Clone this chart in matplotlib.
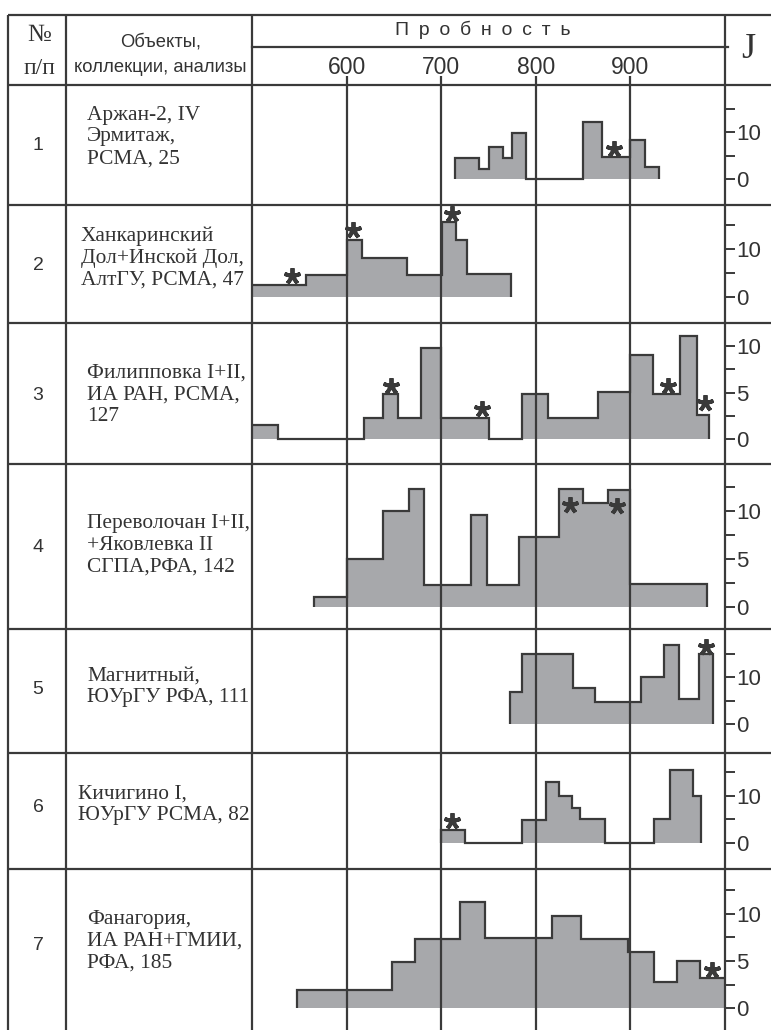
import numpy as np
import matplotlib
matplotlib.use('Agg')
import matplotlib.pyplot as plt

#==============================================================================
#DATA
#==============================================================================

fineness_ticks = [600, 700, 800, 900]

row_numbers = ['1', '2', '3', '4', '5', '6', '7']
row_labels = ['Аржан-2, IV\nЭрмитаж,\nРСМА, 25',
              'Ханкаринский\nДол+Инской Дол,\nАлтГУ, РСМА, 47',
              'Филипповка I+II,\nИА РАН, РСМА,\n127',
              'Переволочан I+II,\n+Яковлевка II\nСГПА,РФА, 142',
              'Магнитный,\nЮУрГУ РФА, 111',
              'Кичигино I,\nЮУрГУ РСМА, 82',
              'Фанагория,\nИА РАН+ГМИИ,\nРФА, 185']

#bin edges (fineness) and frequencies J per row
edges1 = [715, 740, 750, 765, 775, 790, 850, 870, 900, 915, 930]
freq1 = [4.6, 2.1, 6.8, 4.6, 9.8, 0, 12.3, 4.7, 8.3, 2.6]
edges2 = [500, 557, 600, 616, 664, 701, 716, 727, 774]
freq2 = [2.4, 4.5, 11.8, 8.1, 4.6, 15.6, 11.8, 4.8]
edges3 = [500, 527, 618, 638, 654, 679, 700, 751, 785, 813, 866, 900, 924, 952, 970, 983]
freq3 = [1.5, 0, 2.3, 4.8, 2.3, 9.8, 2.3, 0, 4.9, 2.3, 5.1, 9.0, 4.9, 11.1, 2.6]
edges4 = [566, 600, 638, 666, 682, 731, 748, 782, 824, 850, 876, 900, 981]
freq4 = [1.0, 5.0, 10.0, 12.3, 2.3, 9.5, 2.3, 7.3, 12.3, 10.8, 12.2, 2.4]
edges5 = [773, 785, 839, 863, 911, 936, 951, 973, 987]
freq5 = [6.9, 15.1, 7.8, 4.8, 10.0, 16.9, 5.4, 15.0]
edges6 = [700, 725, 785, 811, 824, 838, 847, 873, 925, 942, 966, 975]
freq6 = [2.8, 0, 4.9, 12.9, 10.0, 7.4, 5.0, 0, 5.0, 15.4, 10.0]
edges7 = [548, 648, 672, 720, 746, 817, 848, 897, 925, 949, 974, 1000]
freq7 = [2.0, 4.9, 7.3, 11.2, 7.4, 9.8, 7.3, 6.0, 2.8, 5.0, 3.2]

#asterisk marks (fineness, J)
stars_x = [[883], [542, 607, 711], [647, 743, 940, 979], [836, 886], [980], [711], [986]]
stars_y = [[6.4], [4.3, 13.9, 17.2], [5.7, 3.2, 5.7, 3.9], [10.6, 10.5], [16.6], [4.7], [4.1]]

#J axis ticks per row
jticks_a = [0, 5, 10, 15]
jlabels_a = ['0', '', '10', '']
jticks_b = [0, 2.5, 5, 7.5, 10]
jlabels_b = ['0', '', '5', '', '10']
jticks_c = [0, 2.5, 5, 7.5, 10, 12.5]
jlabels_c = ['0', '', '5', '', '10', '']

#==============================================================================
#SETTINGS
#==============================================================================

W, H = 771, 1030
line_c = '#3a3a3a'
fill_c = '#a7a8ab'
text_c = '#333333'
lw = 1.6
sans = ['Liberation Sans', 'DejaVu Sans']
serif = ['Liberation Serif', 'DejaVu Serif']

row_bounds = [85, 205, 323, 464, 629, 753, 869, 1030]
ylims = [(-5.57, 20.13), (-5.48, 19.1), (-2.68, 12.49), (-2.32, 14.86),
         (-6.24, 20.43), (-5.52, 19.1), (-2.27, 14.72)]
jt = [(jticks_a, jlabels_a), (jticks_a, jlabels_a), (jticks_b, jlabels_b), (jticks_c, jlabels_c),
      (jticks_a, jlabels_a), (jticks_a, jlabels_a), (jticks_c, jlabels_c)]
label_x = [87, 81, 87, 87, 87, 78, 87]
label_y = [137, 258, 395, 545, 687, 805, 941]
num_y = [145, 265, 395, 547, 690, 808, 945]

x_left, x_c1, x_c2, x_right = 8, 66, 252, 725
xlim = (500, 1000)

all_edges = [edges1, edges2, edges3, edges4, edges5, edges6, edges7]
all_freq = [freq1, freq2, freq3, freq4, freq5, freq6, freq7]

#==============================================================================
#PLOTTING
#==============================================================================

f = plt.figure(figsize=(W/100, H/100), dpi=100)

#table background
ax0 = f.add_axes([0, 0, 1, 1])
ax0.set_xlim(0, W)
ax0.set_ylim(H, 0)
ax0.axis('off')

for yb in [15] + row_bounds[:-1]:
    ax0.plot([x_left, W], [yb, yb], color=line_c, lw=lw, solid_capstyle='butt')
ax0.plot([x_c2, 728], [47, 47], color=line_c, lw=lw)
for xb in [x_left, x_c1, x_c2, x_right]:
    ax0.plot([xb, xb], [15, H], color=line_c, lw=lw, solid_capstyle='butt')

#header
ax0.text(39, 35, '№', fontsize=18, family=serif, ha='center', va='center', color=text_c)
ax0.text(39, 68, 'п/п', fontsize=17, family=serif, ha='center', va='center', color=text_c)
ax0.text(161, 42, 'Объекты,', fontsize=13.2, family=sans, ha='center', va='center', color=text_c)
ax0.text(160, 67, 'коллекции, анализы', fontsize=13.2, family=sans, ha='center', va='center', color=text_c)
ax0.text(483, 30, '\u2002'.join('Пробность'), fontsize=14, family=sans, ha='center', va='center', color=text_c)
ax0.text(748, 49, 'J', fontsize=26, family=serif, ha='center', va='center', color=text_c)

for i in range(7):
    ax0.text(38, num_y[i], row_numbers[i], fontsize=14, family=sans, ha='center', va='center', color=text_c)
    ax0.text(label_x[i], label_y[i], row_labels[i], fontsize=15.4, family=serif, ha='left', va='center',
             linespacing=1.21, color=text_c)

#header tick axis
axh = f.add_axes([x_c2/W, 1-85/H, (x_right-x_c2)/W, (85-47)/H])
axh.set_xlim(xlim)
axh.set_ylim(0, 1)
axh.axis('off')
axh.vlines(fineness_ticks, 0, 0.24, color=line_c, lw=lw)
for t in fineness_ticks:
    axh.text(t, 0.47, str(t), fontsize=16.5, family=sans, ha='center', va='center', color=text_c)

#histogram rows
for i in range(7):
    top, bot = row_bounds[i], row_bounds[i+1]
    ax = f.add_axes([x_c2/W, 1-bot/H, (x_right-x_c2)/W, (bot-top)/H])
    ax.patch.set_alpha(0)
    ax.set_xlim(xlim)
    ax.set_ylim(ylims[i])
    for s in ax.spines.values():
        s.set_visible(False)
    ax.set_xticks([])
    for t in fineness_ticks:
        ax.axvline(t, color=line_c, lw=lw, zorder=3)
    ax.stairs(all_freq[i], all_edges[i], baseline=0, fill=True, facecolor=fill_c,
              edgecolor=line_c, lw=lw, zorder=2)
    ax.plot(stars_x[i], stars_y[i], ls='none', marker=(5, 2, 0), ms=12, mew=2.8,
            color=line_c, zorder=4)
    ax.yaxis.tick_right()
    ax.set_yticks(jt[i][0], jt[i][1])
    ax.tick_params(axis='y', direction='out', length=7, width=1.4, color=line_c, pad=1,
                   labelsize=16, labelcolor=text_c)
    for lab in ax.get_yticklabels():
        lab.set_family(sans)

f.savefig('out.png', dpi=100)
